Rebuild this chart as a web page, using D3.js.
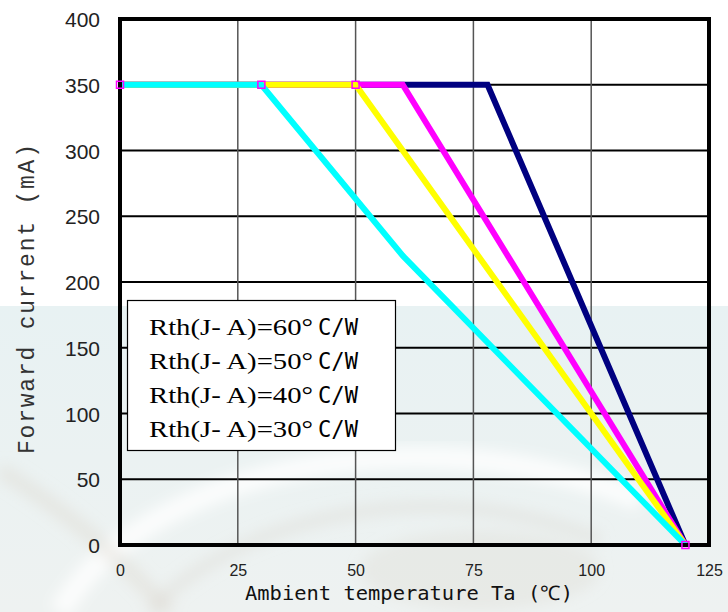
<!DOCTYPE html>
<html>
<head>
<meta charset="utf-8">
<script src="https://cdn.jsdelivr.net/npm/d3@7/dist/d3.min.js"></script>
<style>
  html, body { margin: 0; padding: 0; background: #ffffff; }
  svg { display: block; }
</style>
</head>
<body>
<svg id="chart" width="728" height="612"></svg>
<script>
// Forward current derating vs. ambient temperature, one curve per thermal resistance
const xTicks = [0, 25, 50, 75, 100, 125];
const yTicks = [0, 50, 100, 150, 200, 250, 300, 350, 400];

const rthLabels = ["Rth(J- A)=60°", "Rth(J- A)=50°", "Rth(J- A)=40°", "Rth(J- A)=30°"];
const rthUnit = "C/W";

// Ta (°C) / If (mA) breakpoints for each curve
const ta60 = [0, 78, 120];
const if60 = [350, 350, 0];
const ta50 = [0, 60, 120];
const if50 = [350, 350, 0];
const ta40 = [0, 50, 120];
const if40 = [350, 350, 0];
const ta30 = [0, 30, 60, 120];
const if30 = [350, 350, 220, 0];

// square markers along the curves
const markTa = [0, 30, 50, 120];
const markIf = [350, 350, 350, 0];

const colors = ["#000080", "#ff00ff", "#ffff00", "#00ffff"];

const svg = d3.select("#chart");
const W = 728, H = 612;
const plot = { left: 120, right: 709, top: 19, bottom: 545 };

const x = d3.scaleLinear().domain([0, 125]).range([plot.left, plot.right]);
const y = d3.scaleLinear().domain([0, 400]).range([plot.bottom, plot.top]);

// faint photographic backdrop in the lower part of the page
const defs = svg.append("defs");
const bg = defs.append("linearGradient").attr("id", "bgGrad")
  .attr("x1", 0).attr("y1", 0).attr("x2", 0).attr("y2", 1);
bg.append("stop").attr("offset", "0%").attr("stop-color", "#e8f2f3");
bg.append("stop").attr("offset", "100%").attr("stop-color", "#eef2f1");
defs.append("filter").attr("id", "soft")
  .append("feGaussianBlur").attr("stdDeviation", 7);

svg.append("rect").attr("x", 0).attr("y", 306).attr("width", W).attr("height", H - 306)
  .attr("fill", "url(#bgGrad)");
const photo = svg.append("g").attr("filter", "url(#soft)").attr("fill", "none");
photo.append("path")
  .attr("d", "M 60 612 C 140 470, 420 410, 640 500")
  .attr("stroke", "#ffffff").attr("stroke-width", 22).attr("opacity", 0.8);
photo.append("path")
  .attr("d", "M 150 612 C 230 520, 430 470, 600 540")
  .attr("stroke", "#dcdad2").attr("stroke-width", 12).attr("opacity", 0.45);
photo.append("path")
  .attr("d", "M 0 470 C 80 520, 120 560, 170 612")
  .attr("stroke", "#dcd8ce").attr("stroke-width", 16).attr("opacity", 0.4);
photo.append("ellipse")
  .attr("cx", 480).attr("cy", 570).attr("rx", 120).attr("ry", 40)
  .attr("fill", "#dcd8cc").attr("opacity", 0.3);

// plot area: white above the backdrop, transparent below it
svg.append("rect")
  .attr("x", plot.left).attr("y", plot.top)
  .attr("width", plot.right - plot.left).attr("height", 306 - plot.top)
  .attr("fill", "#ffffff");

// grid
const grid = svg.append("g");
grid.selectAll("line.h").data(yTicks.filter(v => v > 0 && v < 400)).join("line")
  .attr("x1", plot.left).attr("x2", plot.right)
  .attr("y1", d => y(d)).attr("y2", d => y(d))
  .attr("stroke", "#000").attr("stroke-width", 2);
grid.selectAll("line.v").data(xTicks.filter(v => v > 0 && v < 125)).join("line")
  .attr("y1", plot.top).attr("y2", plot.bottom)
  .attr("x1", d => x(d)).attr("x2", d => x(d))
  .attr("stroke", "#555").attr("stroke-width", 1.5);

// legend box
const lg = svg.append("g");
lg.append("rect").attr("x", 127.5).attr("y", 300.5).attr("width", 268).attr("height", 150)
  .attr("fill", "#ffffff").attr("stroke", "#000").attr("stroke-width", 1.2);
rthLabels.forEach((t, i) => {
  const by = 335 + i * 34;
  lg.append("text").attr("x", 149).attr("y", by)
    .attr("font-family", "'Liberation Serif', 'Times New Roman', serif")
    .attr("font-size", 24).attr("fill", "#000")
    .attr("textLength", 164).attr("lengthAdjust", "spacingAndGlyphs")
    .text(t);
  lg.append("text").attr("x", 318).attr("y", by)
    .attr("font-family", "'DejaVu Sans Mono', monospace")
    .attr("font-size", 23).attr("fill", "#000")
    .attr("textLength", 40).attr("lengthAdjust", "spacingAndGlyphs")
    .text(rthUnit);
});

// derating curves
const line = d3.line().x(d => x(d[0])).y(d => y(d[1]));
const curves = [
  [ta60, if60], [ta50, if50], [ta40, if40], [ta30, if30]
];
svg.append("g").selectAll("path").data(curves).join("path")
  .attr("d", c => line(c[0].map((t, k) => [t, c[1][k]])))
  .attr("fill", "none")
  .attr("stroke", (c, i) => colors[i])
  .attr("stroke-width", 6)
  .attr("stroke-linejoin", "miter");

// frame
svg.append("rect")
  .attr("x", plot.left).attr("y", plot.top)
  .attr("width", plot.right - plot.left).attr("height", plot.bottom - plot.top)
  .attr("fill", "none").attr("stroke", "#000").attr("stroke-width", 4);

// markers
svg.append("g").selectAll("rect").data(markTa.map((t, k) => [t, markIf[k]])).join("rect")
  .attr("x", d => x(d[0]) - 3.5).attr("y", d => y(d[1]) - 3.5)
  .attr("width", 7).attr("height", 7)
  .attr("fill", "none").attr("stroke", "#ff00ff").attr("stroke-width", 1.5);

// axes labels
const yAxis = d3.axisLeft(y).tickValues(yTicks).tickSize(0).tickPadding(20);
const gy = svg.append("g").attr("transform", `translate(${plot.left},0)`).call(yAxis);
gy.select(".domain").remove();
gy.selectAll("text")
  .attr("font-family", "'Liberation Sans', Arial, sans-serif")
  .attr("font-size", 21).attr("fill", "#222").attr("dy", "0.36em");

const xAxis = d3.axisBottom(x).tickValues(xTicks).tickSize(0).tickPadding(0);
const gx = svg.append("g").attr("transform", `translate(0,${plot.bottom})`).call(xAxis);
gx.select(".domain").remove();
gx.selectAll("text")
  .attr("font-family", "'Liberation Sans', Arial, sans-serif")
  .attr("font-size", 16).attr("fill", "#222")
  .attr("y", 31).attr("dy", 0);

// axis titles
svg.append("text")
  .attr("x", 245).attr("y", 600)
  .attr("font-family", "'DejaVu Sans Mono', monospace")
  .attr("font-size", 20).attr("fill", "#111")
  .attr("textLength", 328).attr("lengthAdjust", "spacingAndGlyphs")
  .text("Ambient temperature Ta (℃)");

svg.append("text")
  .attr("transform", "translate(34,454) rotate(-90)")
  .attr("font-family", "'Liberation Mono', 'Courier New', monospace")
  .attr("font-size", 23).attr("fill", "#333")
  .attr("textLength", 310).attr("lengthAdjust", "spacing")
  .text("Forward current (mA)");
</script>
</body>
</html>
